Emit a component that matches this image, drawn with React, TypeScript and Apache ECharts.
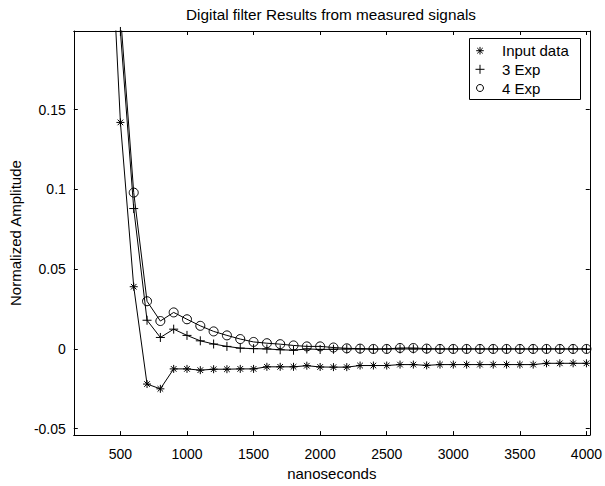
import React, { useEffect, useRef } from "react";
import * as echarts from "echarts";

// ---- Data ----
const times = [
  400, 500, 600, 700, 800, 900, 1000, 1100, 1200, 1300, 1400, 1500, 1600,
  1700, 1800, 1900, 2000, 2100, 2200, 2300, 2400, 2500, 2600, 2700, 2800,
  2900, 3000, 3100, 3200, 3300, 3400, 3500, 3600, 3700, 3800, 3900, 4000,
];

const inputData = [
  0.31, 0.142, 0.039, -0.022, -0.025, -0.0125, -0.0125, -0.0133, -0.0127,
  -0.0127, -0.0125, -0.0125, -0.0112, -0.0112, -0.0112, -0.0105, -0.0113,
  -0.0114, -0.0114, -0.0104, -0.0104, -0.0104, -0.0098, -0.0098, -0.0103,
  -0.0098, -0.0098, -0.0098, -0.0098, -0.0098, -0.0098, -0.0098, -0.0098,
  -0.009, -0.009, -0.009, -0.009,
];

const threeExp = [
  0.33, 0.199, 0.088, 0.018, 0.0072, 0.0124, 0.0085, 0.0051, 0.0031, 0.0016,
  0.0005, 0.0002, 0.0, -0.0005, -0.0008, 0.0, -0.0003, -0.0002, 0.0, 0.0,
  -0.0001, 0.0, 0.0, 0.0, -0.0001, 0.0, 0.0, 0.0, 0.0, 0.0, 0.0, 0.0, 0.0,
  0.0, 0.0, 0.0, 0.0,
];

const fourExp = [
  0.36, 0.21, 0.098, 0.0299, 0.0175, 0.0229, 0.0186, 0.0145, 0.011, 0.0085,
  0.0062, 0.0044, 0.0036, 0.003, 0.0022, 0.0016, 0.0016, 0.0009, 0.0004,
  0.0002, 0.0, 0.0, 0.0006, 0.0006, 0.0002, 0.0, 0.0, 0.0, 0.0, 0.0, 0.0,
  0.0, 0.0, 0.0, 0.0, 0.0, 0.0,
];

const seriesNames = ["Input data", "3 Exp", "4 Exp"];
const xTickLabels = [500, 1000, 1500, 2000, 2500, 3000, 3500, 4000];
const yTickLabels = [-0.05, 0, 0.05, 0.1, 0.15];

const titleText = "Digital filter Results from measured signals";
const xName = "nanoseconds";
const yName = "Normalized Amplitude";

const FONT = "'Liberation Sans', Arial, Helvetica, sans-serif";
const ASTERISK = "M5 0L5 10M0 5L10 5M1.5 1.5L8.5 8.5M8.5 1.5L1.5 8.5";
const PLUS = "M5 0L5 10M0 5L10 5";

const X_MIN = 150;
const X_MAX = 4025;
const Y_MIN = -0.054;
const Y_MAX = 0.1993;

function near(v: number, list: number[], eps: number) {
  return list.some((t) => Math.abs(t - v) < eps);
}

function asteriskLines(cx: number, cy: number, r: number) {
  const d = r * 0.72;
  const segs = [
    [cx, cy - r, cx, cy + r],
    [cx - r, cy, cx + r, cy],
    [cx - d, cy - d, cx + d, cy + d],
    [cx - d, cy + d, cx + d, cy - d],
  ];
  return segs.map((s) => ({
    type: "line",
    shape: { x1: s[0], y1: s[1], x2: s[2], y2: s[3] },
    style: { stroke: "#000", lineWidth: 1 },
    z: 101,
  }));
}

function plusLines(cx: number, cy: number, r: number) {
  const segs = [
    [cx, cy - r, cx, cy + r],
    [cx - r, cy, cx + r, cy],
  ];
  return segs.map((s) => ({
    type: "line",
    shape: { x1: s[0], y1: s[1], x2: s[2], y2: s[3] },
    style: { stroke: "#000", lineWidth: 1 },
    z: 101,
  }));
}

export default function App() {
  const ref = useRef<HTMLDivElement>(null);

  useEffect(() => {
    document.body.style.margin = "0";
    if (!ref.current) return;
    const chart = echarts.init(ref.current, undefined, { renderer: "svg" });

    const markerStyle = {
      color: "rgba(0,0,0,0)",
      borderColor: "#000",
      borderWidth: 1,
    };

    const mk = (name: string, vals: number[], symbol: string, size: number) => ({
      type: "line",
      name,
      data: times.map((t, i) => [t, vals[i]]),
      symbol,
      symbolSize: size,
      showSymbol: true,
      showAllSymbol: true,
      clip: true,
      silent: true,
      itemStyle: markerStyle,
      lineStyle: { color: "#000", width: 1 },
      emphasis: { disabled: true },
      xAxisIndex: 0,
      yAxisIndex: 0,
    });

    const legendX = 480;
    const legendRows = [50.7, 69.3, 88];

    const axisCommon = {
      axisLine: { show: true, onZero: false, lineStyle: { color: "#000", width: 1 } },
      axisTick: { show: true, inside: true, length: 4, lineStyle: { color: "#000", width: 1 } },
      splitLine: { show: false },
    };

    chart.setOption({
      animation: false,
      backgroundColor: "#fff",
      grid: { left: 70, top: 31, width: 520, height: 409.5, containLabel: false },
      xAxis: [
        {
          ...axisCommon,
          type: "value",
          position: "bottom",
          min: X_MIN,
          max: X_MAX,
          splitNumber: 8,
          name: xName,
          nameLocation: "middle",
          nameGap: 26,
          nameTextStyle: { fontFamily: FONT, fontSize: 15, color: "#000" },
          axisLabel: {
            show: true,
            margin: 12,
            fontFamily: FONT,
            fontSize: 14,
            color: "#000",
            formatter: (v: number) => (near(v, xTickLabels, 1e-6) ? String(v) : ""),
          },
        },
        {
          ...axisCommon,
          type: "value",
          position: "top",
          min: X_MIN,
          max: X_MAX,
          splitNumber: 8,
          axisLabel: { show: false },
        },
      ],
      yAxis: [
        {
          ...axisCommon,
          type: "value",
          position: "left",
          min: Y_MIN,
          max: Y_MAX,
          splitNumber: 5,
          name: yName,
          nameLocation: "middle",
          nameGap: 47,
          nameTextStyle: { fontFamily: FONT, fontSize: 15, color: "#000" },
          axisLabel: {
            show: true,
            margin: 8,
            fontFamily: FONT,
            fontSize: 14,
            color: "#000",
            formatter: (v: number) =>
              near(v, yTickLabels, 1e-9) ? String(Number(v.toFixed(2))) : "",
          },
        },
        {
          ...axisCommon,
          type: "value",
          position: "right",
          min: Y_MIN,
          max: Y_MAX,
          splitNumber: 5,
          axisLabel: { show: false },
        },
      ],
      series: [
        mk(seriesNames[0], inputData, "path://" + ASTERISK, 8),
        mk(seriesNames[1], threeExp, "path://" + PLUS, 9),
        mk(seriesNames[2], fourExp, "circle", 9),
      ],
      graphic: [
        {
          type: "text",
          x: 331,
          y: 14,
          style: {
            text: titleText,
            fontFamily: FONT,
            fontSize: 15.3,
            fill: "#000",
            align: "center",
            verticalAlign: "middle",
            textAlign: "center",
            textVerticalAlign: "middle",
          },
          z: 100,
        },
        {
          type: "rect",
          shape: { x: 469.5, y: 38.5, width: 111, height: 61 },
          style: { fill: "#fff", stroke: "#000", lineWidth: 1 },
          z: 100,
        },
        ...asteriskLines(legendX, legendRows[0], 3.8),
        ...plusLines(legendX, legendRows[1], 4.5),
        {
          type: "circle",
          shape: { cx: legendX, cy: legendRows[2], r: 3.5 },
          style: { fill: "none", stroke: "#000", lineWidth: 1 },
          z: 101,
        },
        ...seriesNames.map((n, i) => ({
          type: "text",
          x: 502,
          y: legendRows[i],
          style: {
            text: n,
            fontFamily: FONT,
            fontSize: 15,
            fill: "#000",
            align: "left",
            verticalAlign: "middle",
            textAlign: "left",
            textVerticalAlign: "middle",
          },
          z: 101,
        })),
      ],
    });

    return () => chart.dispose();
  }, []);

  return (
    <div
      ref={ref}
      style={{ position: "fixed", left: 0, top: 0, width: 605, height: 486 }}
    />
  );
}
